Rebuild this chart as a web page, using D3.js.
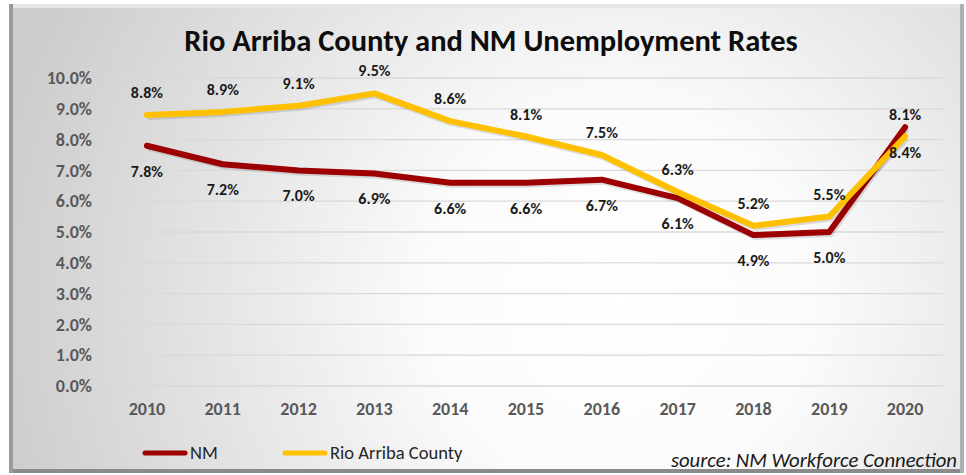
<!DOCTYPE html>
<html><head><meta charset="utf-8">
<script src="https://cdn.jsdelivr.net/npm/d3@7"></script>
<style>body{margin:0;background:#fff}svg{display:block}</style>
</head><body><svg id="c" width="966" height="475"></svg>
<script>
const years = ["2010","2011","2012","2013","2014","2015","2016","2017","2018","2019","2020"];
const nmValues = [7.8,7.2,7.0,6.9,6.6,6.6,6.7,6.1,4.9,5.0,8.4];
const rioValues = [8.8,8.9,9.1,9.5,8.6,8.1,7.5,6.3,5.2,5.5,8.1];
const yTicks = [0,1,2,3,4,5,6,7,8,9,10];
const seriesNames = ["NM","Rio Arriba County"];
const seriesColors = ["#9c0000","#ffc000"];

const F = "Carlito,'Open Sans',sans-serif";
const svg = d3.select("#c");
const defs = svg.append("defs");
const rg = defs.append("radialGradient").attr("id","bg").attr("gradientUnits","userSpaceOnUse")
  .attr("cx",620).attr("cy",300).attr("r",640);
rg.append("stop").attr("offset","0").attr("stop-color","#ffffff");
rg.append("stop").attr("offset","0.3").attr("stop-color","#fbfbfb");
rg.append("stop").attr("offset","1").attr("stop-color","#cccccc");
const edge = defs.append("linearGradient").attr("id","edge").attr("x1",0).attr("y1",0).attr("x2",0).attr("y2",1);
edge.append("stop").attr("offset","0").attr("stop-color","#e8e8e8");
edge.append("stop").attr("offset","1").attr("stop-color","#8a8a8a");

// frame
svg.append("rect").attr("x",9).attr("y",4).attr("width",955).attr("height",469).attr("fill","url(#edge)");
svg.append("rect").attr("x",9).attr("y",4).attr("width",4).attr("height",469).attr("fill","#9a9a9a");
svg.append("rect").attr("x",960).attr("y",4).attr("width",4).attr("height",469).attr("fill","#b0b0b0");
svg.append("rect").attr("x",13).attr("y",8).attr("width",947).attr("height",461).attr("fill","url(#bg)");

const x = d3.scaleBand().domain(years).range([109,943]);
const y = d3.scaleLinear().domain([0,10]).range([386,78]);

// gridlines
svg.append("g").selectAll("line").data(yTicks).join("line")
  .attr("x1",109).attr("x2",943).attr("y1",d=>y(d)).attr("y2",d=>y(d))
  .attr("stroke","#d9d9d9").attr("stroke-width",1.3);

// y axis
const yAxis = d3.axisLeft(y).tickValues(yTicks).tickFormat(d=>d.toFixed(1)+"%").tickSize(0).tickPadding(0);
const gy = svg.append("g").attr("transform","translate(92,0)").call(yAxis);
gy.select(".domain").remove();
gy.selectAll("text").attr("font-family",F).attr("font-weight","bold")
  .attr("font-size",18).attr("fill","#595959");

// x axis
const xAxis = d3.axisBottom(x).tickSize(0).tickPadding(0);
const gx = svg.append("g").attr("transform","translate(0,402)").call(xAxis);
gx.select(".domain").remove();
gx.selectAll("text").attr("font-family",F).attr("font-weight","bold")
  .attr("font-size",18).attr("fill","#595959");

// title
svg.append("text").attr("x",491).attr("y",51).attr("text-anchor","middle")
  .attr("font-family",F).attr("font-weight","bold").attr("font-size",30.5)
  .attr("fill","#0d0d0d").text("Rio Arriba County and NM Unemployment Rates");

const line = d3.line().x((d,i)=>x(years[i])+x.bandwidth()/2).y(d=>y(d));
const series = [nmValues, rioValues];
series.forEach((vals,k)=>{
  svg.append("path").datum(vals).attr("d",line).attr("fill","none")
    .attr("stroke","rgba(0,0,0,0.12)").attr("stroke-width",6).attr("stroke-linejoin","round")
    .attr("transform","translate(1.5,2)");
  svg.append("path").datum(vals).attr("d",line).attr("fill","none")
    .attr("stroke",seriesColors[k]).attr("stroke-width",6).attr("stroke-linejoin","round").attr("stroke-linecap","round");
});

// labels
svg.append("g").selectAll("text").data(rioValues).join("text")
  .attr("x",(d,i)=>x(years[i])+x.bandwidth()/2).attr("y",d=>y(d)-17)
  .attr("text-anchor","middle").attr("font-family",F).attr("font-weight","bold")
  .attr("font-size",16).attr("fill","#1a1a1a").text(d=>d.toFixed(1)+"%");
svg.append("g").selectAll("text").data(nmValues).join("text")
  .attr("x",(d,i)=>x(years[i])+x.bandwidth()/2).attr("y",d=>y(d)+31)
  .attr("text-anchor","middle").attr("font-family",F).attr("font-weight","bold")
  .attr("font-size",16).attr("fill","#1a1a1a").text(d=>d.toFixed(1)+"%");

// legend
const legX = [143,283];
seriesNames.forEach((n,k)=>{
  svg.append("line").attr("x1",legX[k]+2).attr("x2",legX[k]+42).attr("y1",453).attr("y2",453)
    .attr("stroke",seriesColors[k]).attr("stroke-width",5).attr("stroke-linecap","round");
  svg.append("text").attr("x",legX[k]+47).attr("y",459).attr("font-family",F)
    .attr("font-size",18.5).attr("fill","#262626").text(n);
});

svg.append("text").attr("x",957).attr("y",467).attr("text-anchor","end")
  .attr("font-family",F).attr("font-style","italic").attr("font-size",20.7)
  .attr("fill","#1a1a1a").text("source: NM Workforce Connection");
</script></body></html>
